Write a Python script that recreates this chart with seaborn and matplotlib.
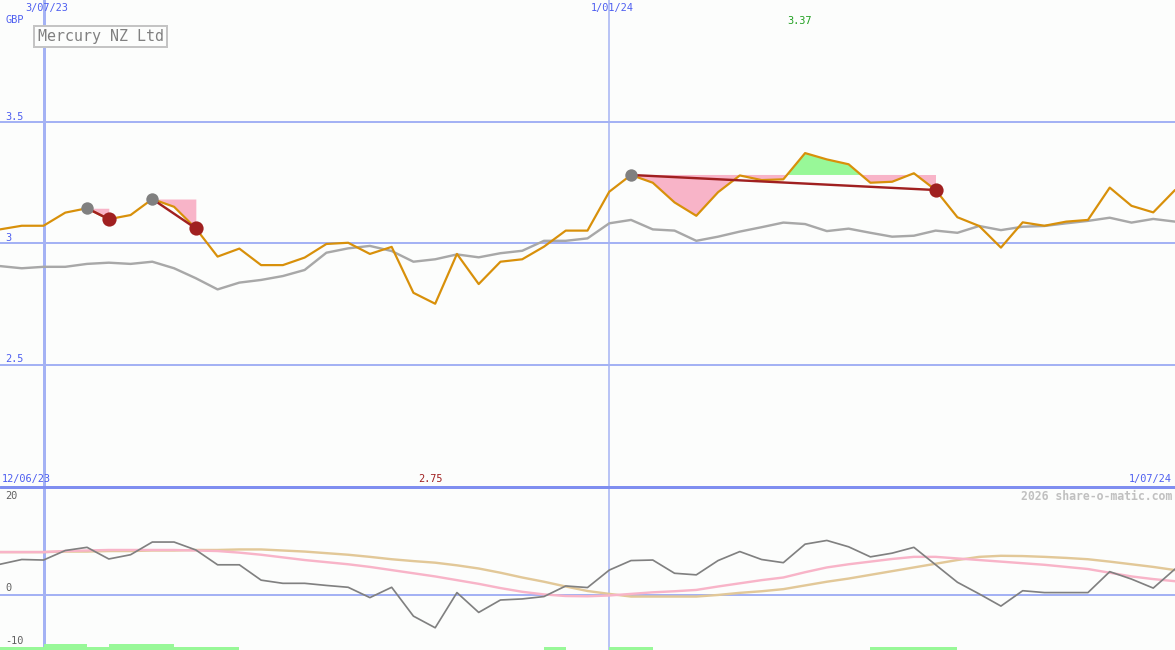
import numpy as np
import pandas as pd
import matplotlib
matplotlib.use("Agg")
import matplotlib.pyplot as plt
from matplotlib.lines import Line2D
import seaborn as sns

# ---------------- data ----------------
title = "Mercury NZ Ltd"
currency = "GBP"
weeks = list(range(55))
price = [3.056, 3.071, 3.071, 3.125, 3.143, 3.098, 3.115, 3.181, 3.149, 3.060,
         2.944, 2.977, 2.909, 2.909, 2.940, 2.996, 3.001, 2.955, 2.984, 2.795,
         2.750, 2.955, 2.831, 2.923, 2.933, 2.985, 3.051, 3.051, 3.211, 3.280,
         3.248, 3.167, 3.112, 3.209, 3.278, 3.259, 3.262, 3.370, 3.344, 3.324,
         3.248, 3.252, 3.287, 3.218, 3.106, 3.070, 2.981, 3.085, 3.071, 3.088,
         3.095, 3.228, 3.153, 3.126, 3.218]
index_line = [2.905, 2.896, 2.902, 2.902, 2.914, 2.919, 2.914, 2.923, 2.896, 2.855,
              2.809, 2.837, 2.848, 2.864, 2.889, 2.960, 2.978, 2.988, 2.967, 2.923,
              2.933, 2.953, 2.941, 2.958, 2.968, 3.009, 3.009, 3.019, 3.081, 3.095,
              3.056, 3.051, 3.009, 3.026, 3.047, 3.065, 3.084, 3.078, 3.049, 3.059,
              3.042, 3.026, 3.030, 3.051, 3.042, 3.070, 3.053, 3.067, 3.070, 3.081,
              3.091, 3.104, 3.084, 3.099, 3.088]
osc = [5.8, 6.7, 6.6, 8.4, 9.0, 6.8, 7.6, 10.0, 10.0, 8.5,
       5.7, 5.7, 2.8, 2.2, 2.2, 1.8, 1.45, -0.5, 1.45, -4.0,
       -6.2, 0.45, -3.3, -0.95, -0.75, -0.3, 1.7, 1.4, 4.7, 6.5,
       6.6, 4.1, 3.8, 6.5, 8.2, 6.7, 6.1, 9.6, 10.3, 9.1,
       7.2, 7.9, 9.0, 5.7, 2.4, 0.2, -2.1, 0.8, 0.45, 0.45,
       0.45, 4.4, 3.0, 1.3, 4.9]
osc_pink = [8.1, 8.1, 8.1, 8.3, 8.4, 8.5, 8.5, 8.5, 8.5, 8.4,
            8.3, 8.0, 7.6, 7.1, 6.6, 6.2, 5.8, 5.3, 4.7, 4.1,
            3.5, 2.8, 2.1, 1.3, 0.6, 0.1, -0.2, -0.25, -0.1, 0.2,
            0.5, 0.7, 0.95, 1.6, 2.2, 2.8, 3.3, 4.3, 5.2, 5.8,
            6.3, 6.8, 7.2, 7.2, 6.9, 6.6, 6.3, 6.0, 5.7, 5.3,
            4.9, 4.2, 3.5, 3.0, 2.6]
osc_tan = [8.1, 8.1, 8.1, 8.2, 8.2, 8.3, 8.3, 8.4, 8.4, 8.5,
           8.5, 8.6, 8.6, 8.4, 8.2, 7.9, 7.6, 7.2, 6.75, 6.4,
           6.1, 5.6, 5.0, 4.2, 3.3, 2.5, 1.6, 0.75, 0.2, -0.3,
           -0.3, -0.3, -0.3, 0.0, 0.4, 0.7, 1.1, 1.8, 2.5, 3.1,
           3.8, 4.5, 5.2, 5.9, 6.6, 7.2, 7.4, 7.35, 7.2, 7.0,
           6.75, 6.3, 5.8, 5.3, 4.7]
signal_bars = [1, 1, 2, 2, 1, 2, 2, 2, 1, 1,
               1, 0, 0, 0, 0, 0, 0, 0, 0, 0,
               0, 0, 0, 0, 0, 1, 0, 0, 1, 1,
               0, 0, 0, 0, 0, 0, 0, 0, 0, 0,
               1, 1, 1, 1, 0, 0, 0, 0, 0, 0,
               0, 0, 0, 0, 0]
sig_start = [4, 7, 29]
sig_end = [5, 9, 43]
top_ticks = [3.5, 3.0, 2.5]
top_tick_labels = ["3.5", "3", "2.5"]
bottom_ticks = [20, 0, -10]
bottom_tick_labels = ["20", "0", "-10"]
marker_weeks = [2, 28]
marker_labels = ["3/07/23", "1/01/24"]
range_labels = ["12/06/23", "1/07/24"]
credit = "2026 share-o-matic.com"

# ---------------- style ----------------
BG = "#fcfdfc"
GRID = "#a4b2f4"
SEP = "#7f8ef0"
BLUE_TXT = "#4d5ef0"
ORANGE = "#d8900a"
GREY = "#a8a8a8"
DGREY = "#808080"
PINK = "#f8b4c8"
TAN = "#e2c898"
GREEN = "#98f898"
DRED = "#a02020"
MONO = "DejaVu Sans Mono"

sns.set_theme(style="white")
plt.rcParams["font.family"] = [MONO, "DejaVu Sans"]

W, H = 1175, 650
fig = plt.figure(figsize=(W / 100, H / 100), dpi=100, facecolor=BG)
split = 487
ax = fig.add_axes([0, (H - split) / H, 1, split / H])
bx = fig.add_axes([0, 0, 1, (H - split) / H])
for a in (ax, bx):
    a.set_facecolor(BG)
    for s in a.spines.values():
        s.set_visible(False)
    a.set_xticks([])
    a.set_yticks([])

ax.set_ylim(2.0 - 1 / 243, 4.0)
bx.set_ylim(-10.4, 20.4)

df = pd.DataFrame({"week": weeks, "price": price, "index": index_line,
                   "osc": osc, "pink": osc_pink, "tan": osc_tan})
px = lambda n: n * 0.72  # pixels -> points

# grid lines
for t in top_ticks:
    ax.axhline(t, color=GRID, lw=px(2), zorder=1)
bx.axhline(0, color=GRID, lw=px(2), zorder=1)
for i, w in enumerate(marker_weeks):
    lw = px(3) if i == 0 else px(1.5)
    ax.axvline(w, color=GRID, lw=lw, zorder=1)
    bx.axvline(w, color=GRID, lw=lw, zorder=1)

# top panel fills (signal ranges)
x = np.array(weeks, dtype=float)
p = np.array(price)
for s, e in zip(sig_start, sig_end):
    xs = x[s:e + 1]
    ys = p[s:e + 1]
    lvl = p[s]
    ax.fill_between(xs, lvl, ys, where=ys <= lvl, interpolate=True,
                    color=PINK, lw=0, zorder=2)
    ax.fill_between(xs, lvl, ys, where=ys >= lvl, interpolate=True,
                    color=GREEN, lw=0, zorder=2)

sns.lineplot(data=df, x="week", y="index", ax=ax, color=GREY, lw=px(2.4), zorder=3)
sns.lineplot(data=df, x="week", y="price", ax=ax, color=ORANGE, lw=px(2.2), zorder=4)

for s, e in zip(sig_start, sig_end):
    ax.plot([s, e], [price[s], price[e]], color=DRED, lw=px(2.4), zorder=5)
sns.scatterplot(x=[weeks[s] for s in sig_start], y=[price[s] for s in sig_start],
                ax=ax, color=DGREY, s=80, linewidth=0, zorder=6)
sns.scatterplot(x=[weeks[e] for e in sig_end], y=[price[e] for e in sig_end],
                ax=ax, color=DRED, s=105, linewidth=0, zorder=6)
ax.set_xlabel("")
ax.set_ylabel("")

# bottom panel
ylo = bx.get_ylim()[0]
bx.bar(weeks, [b * 0.6 for b in signal_bars], width=1.0, align="edge",
       bottom=ylo, color=GREEN, lw=0, zorder=2)
sns.lineplot(data=df, x="week", y="tan", ax=bx, color=TAN, lw=px(2.4), zorder=3)
sns.lineplot(data=df, x="week", y="pink", ax=bx, color=PINK, lw=px(2.4), zorder=3)
sns.lineplot(data=df, x="week", y="osc", ax=bx, color=DGREY, lw=px(1.7), zorder=4)
bx.set_xlabel("")
bx.set_ylabel("")
bx.set_xlim(0, 54)
ax.set_xlim(0, 54)

# separator between panels
fig.add_artist(Line2D([0, 1], [(H - split) / H] * 2, transform=fig.transFigure,
                      color=SEP, lw=px(3), zorder=10))

# ---------------- text ----------------
FS = 7.4
for t, lbl in zip(top_ticks, top_tick_labels):
    ax.annotate(lbl, xy=(0, t), xycoords=ax.get_yaxis_transform(),
                xytext=(5, 5), textcoords="offset pixels", ha="left", va="center",
                color=BLUE_TXT, fontsize=FS, zorder=7)
for t, lbl in zip(bottom_ticks, bottom_tick_labels):
    off = -7 if t == max(bottom_ticks) else 7
    bx.annotate(lbl, xy=(0, t), xycoords=bx.get_yaxis_transform(),
                xytext=(5, off), textcoords="offset pixels", ha="left", va="center",
                color="#606060", fontsize=FS, zorder=7)
for w, lbl in zip(marker_weeks, marker_labels):
    ax.annotate(lbl, xy=(w, 1), xycoords=ax.get_xaxis_transform(),
                xytext=(3, -8), textcoords="offset pixels", ha="center", va="center",
                color=BLUE_TXT, fontsize=FS)
fig.text(5 / W, 1 - 20 / H, currency, ha="left", va="center", color=BLUE_TXT, fontsize=FS)

imax = int(np.argmax(price))
imin = int(np.argmin(price))
ax.annotate(f"{price[imax]:.2f}", xy=(weeks[imax], 1), xycoords=ax.get_xaxis_transform(),
            xytext=(-6, -21), textcoords="offset pixels", ha="center", va="center",
            color="#20a020", fontsize=FS)
bx.annotate(f"{price[imin]:.2f}", xy=(weeks[imin], 1), xycoords=bx.get_xaxis_transform(),
            xytext=(-5, 8), textcoords="offset pixels", ha="center", va="center",
            color=DRED, fontsize=FS, annotation_clip=False)
fig.text(2 / W, 1 - 479 / H, range_labels[0], ha="left", va="center", color=BLUE_TXT, fontsize=FS)
fig.text(1172 / W, 1 - 479 / H, range_labels[1], ha="right", va="center", color=BLUE_TXT, fontsize=FS)
fig.text(1172 / W, 1 - 496 / H, credit, ha="right", va="center", color="#c0c0c0",
         fontsize=8.3, fontweight="bold")
fig.text(100.5 / W, 1 - 36.5 / H, title, ha="center", va="center", color="#808080",
         fontsize=10.8,
         bbox=dict(boxstyle="square,pad=0.22", fc=BG, ec="#c4c4c4", lw=px(2)))

fig.savefig("out.png", dpi=100, facecolor=BG)
